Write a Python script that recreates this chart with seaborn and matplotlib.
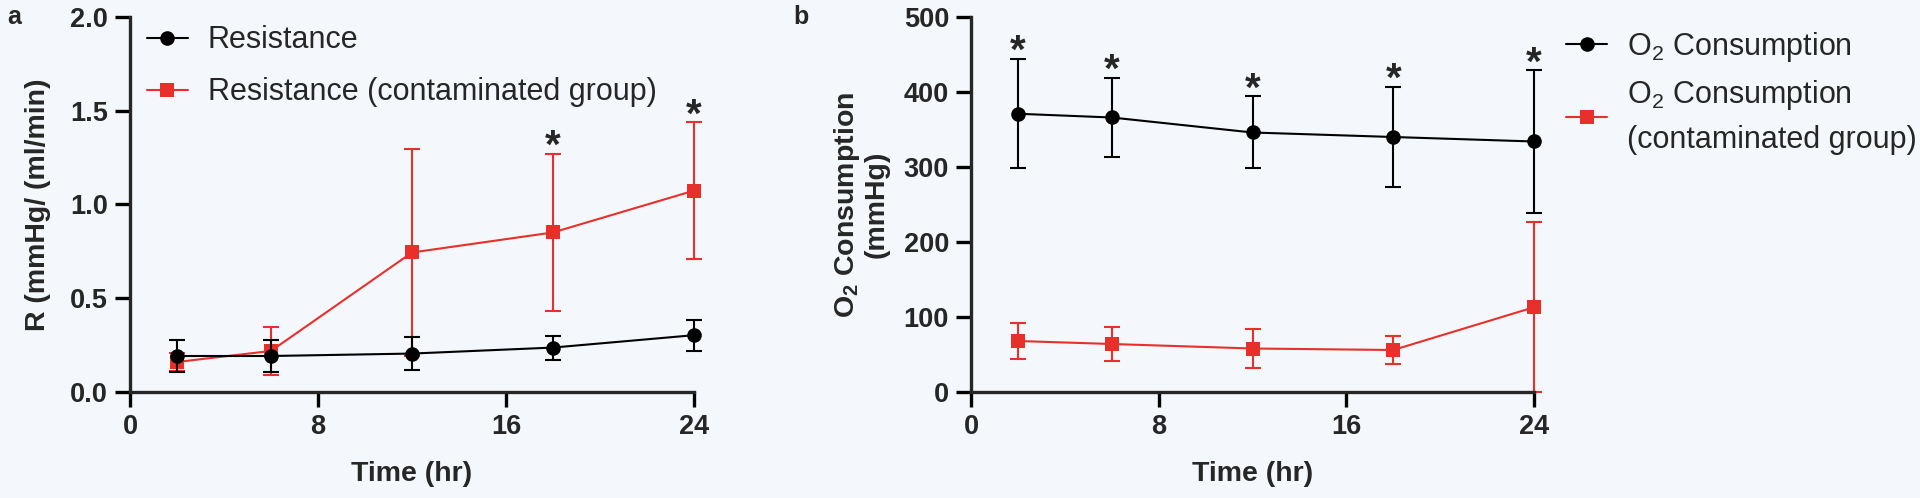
import matplotlib
import numpy as np
import seaborn as sns
import matplotlib.pyplot as plt
matplotlib.use('Agg')

# dados
hours = [2, 6, 12, 18, 24]

res_mean = [0.192, 0.192, 0.205, 0.237, 0.303]
res_sd = [0.084, 0.084, 0.088, 0.064, 0.083]
res_cont_mean = [0.160, 0.219, 0.744, 0.851, 1.074]
res_cont_sd = [0.050, 0.130, 0.553, 0.420, 0.365]
res_stars = [18, 24]

o2_mean = [371, 366, 346, 340, 334]
o2_sd = [73, 53, 48, 67, 95]
o2_cont_mean = [68, 64, 58, 56, 113]
o2_cont_sd = [24, 23, 26, 19, 113]
o2_stars = [2, 6, 12, 18, 24]

x_ticks = [0, 8, 16, 24]

bg = '#F4F7FC'
red = '#E8302A'

sns.set_theme(style='ticks', rc={'axes.facecolor': bg, 'figure.facecolor': bg})
plt.rcParams['font.family'] = ['Liberation Sans', 'DejaVu Sans']
plt.rcParams['mathtext.fontset'] = 'custom'
plt.rcParams['mathtext.rm'] = 'Liberation Sans'
plt.rcParams['mathtext.bf'] = 'Liberation Sans:bold'


def serie(ax, mean, sd, color, marker, label, z):
    sns.lineplot(x=hours, y=mean, ax=ax, color=color, marker=marker, markersize=10.5,
                 markeredgewidth=0, linewidth=1.5, label=label, zorder=z, clip_on=False)
    ax.errorbar(hours, mean, yerr=sd, fmt='none', ecolor=color, elinewidth=1.5,
                capsize=5.5, capthick=1.5, zorder=z - 0.5, clip_on=False)


def estilo(ax, ymax, yticks):
    ax.set_xlim(0, 24)
    ax.set_ylim(0, ymax)
    ax.set_xticks(x_ticks)
    ax.set_yticks(yticks)
    sns.despine(ax=ax)
    for s in ['left', 'bottom']:
        ax.spines[s].set_linewidth(2.4)
    ax.tick_params(width=2.4, length=10.8, labelsize=19.5, pad=5, color='black')
    for t in ax.get_xticklabels() + ax.get_yticklabels():
        t.set_fontweight('bold')
    ax.set_xlabel('Time (hr)', fontsize=20.5, fontweight='bold')
    ax.xaxis.set_label_coords(0.5, -0.185)
    ax.xaxis.label.set_va('top')


def estrelas(ax, xs, mean, sd):
    for x in xs:
        i = hours.index(x)
        ax.annotate('*', (x, mean[i] + sd[i]), xytext=(0, -3), textcoords='offset points',
                    ha='center', va='baseline', fontsize=29, fontweight='bold',
                    annotation_clip=False)


fig = plt.figure(figsize=(19.2, 4.98), dpi=100)
ax1 = fig.add_axes([130 / 1920, 106 / 498, 564 / 1920, 375 / 498])
ax2 = fig.add_axes([971 / 1920, 106 / 498, 563 / 1920, 375 / 498])

# painel a
serie(ax1, res_mean, res_sd, 'black', 'o', 'Resistance', 4)
serie(ax1, res_cont_mean, res_cont_sd, red, 's', 'Resistance (contaminated group)', 3)
estilo(ax1, 2.0, [0.0, 0.5, 1.0, 1.5, 2.0])
ax1.set_yticklabels(['0.0', '0.5', '1.0', '1.5', '2.0'], fontweight='bold')
ax1.set_ylabel('R (mmHg/ (ml/min)', fontsize=20.5, fontweight='bold')
ax1.yaxis.set_label_coords(-0.14, 0.5)
estrelas(ax1, res_stars, res_cont_mean, res_cont_sd)
leg1 = ax1.legend(loc='upper left', bbox_to_anchor=(0.03, 0.978), frameon=False, fontsize=22,
                  handlelength=1.34, handletextpad=0.65, borderpad=0, borderaxespad=0,
                  labelspacing=0.72)

# painel b
serie(ax2, o2_mean, o2_sd, 'black', 'o', 'O$_2$ Consumption', 4)
serie(ax2, o2_cont_mean, o2_cont_sd, red, 's', 'O$_2$ Consumption\n(contaminated group)', 3)
estilo(ax2, 500, [0, 100, 200, 300, 400, 500])
ax2.set_ylabel('O$_\\mathbf{2}$ Consumption\n(mmHg)', fontsize=20.5, fontweight='bold',
               linespacing=1.1)
ax2.yaxis.set_label_coords(-0.144, 0.5)
estrelas(ax2, o2_stars, o2_mean, o2_sd)
leg2 = ax2.legend(loc='upper left', bbox_to_anchor=(1.057, 0.965), frameon=False, fontsize=22,
                  handlelength=1.34, handletextpad=0.65, borderpad=0, borderaxespad=0,
                  labelspacing=0.45)
for t in leg2.get_texts():
    t.set_linespacing(1.55)

fig.text(7 / 1920, 1 - 17 / 498, 'a', fontsize=18, fontweight='bold', va='center')
fig.text(793 / 1920, 1 - 17 / 498, 'b', fontsize=18, fontweight='bold', va='center')

fig.savefig('out.png', dpi=100, facecolor=bg)
plt.close()
